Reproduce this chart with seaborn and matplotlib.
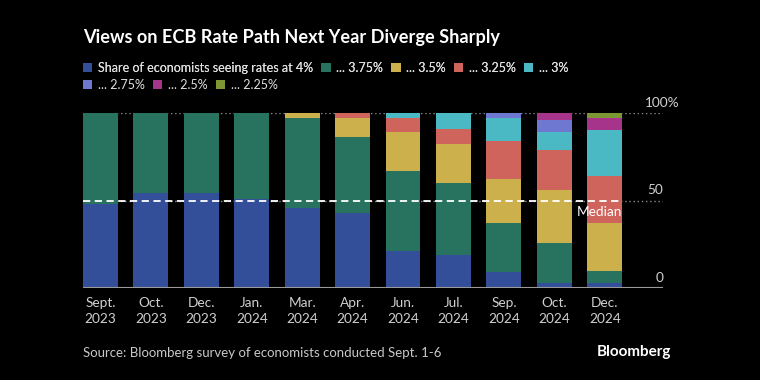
import matplotlib
matplotlib.use('Agg')
import numpy as np
import pandas as pd
import matplotlib.pyplot as plt
import matplotlib.transforms as mtransforms
from matplotlib.patches import Patch
import seaborn as sns

sns.set_style('dark')
plt.rcParams['font.family'] = ['Lato', 'DejaVu Sans']

months = ['Sept.\n2023', 'Oct.\n2023', 'Dec.\n2023', 'Jan.\n2024', 'Mar.\n2024', 'Apr.\n2024',
          'Jun.\n2024', 'Jul.\n2024', 'Sep.\n2024', 'Oct.\n2024', 'Dec.\n2024']
rate_labels = ['Share of economists seeing rates at 4%', '... 3.75%', '... 3.5%', '... 3.25%',
               '... 3%', '... 2.75%', '... 2.5%', '... 2.25%']
# share of economists (%) per survey month, one list per rate level
rate_4_00 = [48, 54, 54, 51, 46, 43, 21, 19, 9, 3, 3]
rate_3_75 = [52, 46, 46, 49, 51, 43, 46, 41, 28, 23, 7]
rate_3_50 = [0, 0, 0, 0, 3, 11, 22, 22, 25, 30, 27]
rate_3_25 = [0, 0, 0, 0, 0, 3, 8, 9, 22, 23, 27]
rate_3_00 = [0, 0, 0, 0, 0, 0, 3, 9, 13, 10, 26]
rate_2_75 = [0, 0, 0, 0, 0, 0, 0, 0, 3, 7, 0]
rate_2_50 = [0, 0, 0, 0, 0, 0, 0, 0, 0, 4, 7]
rate_2_25 = [0, 0, 0, 0, 0, 0, 0, 0, 0, 0, 3]
series = [rate_4_00, rate_3_75, rate_3_50, rate_3_25, rate_3_00, rate_2_75, rate_2_50, rate_2_25]
colors = ['#344f99', '#27735f', '#ccb04c', '#cf645d', '#4ab9c4', '#6f78d0', '#a7348b', '#7c9733']

bg = '#000000'
fig = plt.figure(figsize=(7.6, 3.8), dpi=100, facecolor=bg)
ax = fig.add_axes([83 / 760, 1 - 288.3 / 380, 580 / 760, 175.6 / 380])
ax.set_facecolor(bg)

# cumulative stacks, drawn tallest first so lower layers sit on top
cum = np.cumsum(np.array(series, dtype=float), axis=0)
for i in range(len(series) - 1, -1, -1):
    d = pd.DataFrame({'month': months, 'value': cum[i]})
    sns.barplot(data=d, x='month', y='value', color=colors[i], width=0.69,
                saturation=1, linewidth=0, ax=ax, zorder=2)

ax.set_xlim(-0.345, 11.155)
ax.set_ylim(0, 100)
ax.set_xlabel('')
ax.set_ylabel('')
ax.set_yticks([])
ax.grid(False)
for s in ax.spines.values():
    s.set_visible(False)
ax.tick_params(axis='x', length=0, pad=6, labelsize=9.8, labelcolor='#d0d0d0')
for t in ax.get_xticklabels():
    t.set_linespacing(1.45)

# gridlines and baseline
ax.axhline(100, color='#8a8a8a', lw=1, ls=(0, (1, 2)), zorder=1)
ax.axhline(50, color='#8a8a8a', lw=1, ls=(0, (1, 2)), zorder=1)
ax.axhline(0, color='#9a9a9a', lw=1.5, zorder=3)
ax.plot([-0.345, 10.345], [50, 50], color='white', lw=1.3, ls=(0, (4, 2.5)), zorder=4)
ax.text(10.345, 47, 'Median', color='white', fontsize=9.8, ha='right', va='top', zorder=5)

trans = mtransforms.blended_transform_factory(ax.transAxes, ax.transData)
for v, lab in [(0, '0'), (50, '50')]:
    ax.annotate(lab, xy=(1.0, v), xycoords=trans, xytext=(0, 3), textcoords='offset points',
                ha='right', va='bottom', color='#d0d0d0', fontsize=9.8)
ax.annotate('100%', xy=((645 - 83) / 580, 100), xycoords=trans, xytext=(0, 3),
            textcoords='offset points', ha='left', va='bottom', color='#d0d0d0', fontsize=9.8)

# legend rows
handles = [Patch(facecolor=c, edgecolor='none') for c in colors]
leg_kw = dict(frameon=False, fontsize=9, labelcolor='#e0e0e0', handlelength=0.75,
              handleheight=0.75, handletextpad=0.45, columnspacing=0.65, borderaxespad=0,
              borderpad=0, loc='upper left')
leg1 = fig.legend(handles[:5], rate_labels[:5], ncol=5, bbox_to_anchor=(83 / 760, 1 - 62 / 380), **leg_kw)
fig.add_artist(leg1)
fig.legend(handles[5:], rate_labels[5:], ncol=3, bbox_to_anchor=(83 / 760, 1 - 79 / 380), **leg_kw)

fig.text(83 / 760, 1 - 37 / 380, 'Views on ECB Rate Path Next Year Diverge Sharply', color='white',
         fontsize=13.1, fontweight='bold', ha='left', va='center')
fig.text(83 / 760, 1 - 353 / 380, 'Source: Bloomberg survey of economists conducted Sept. 1-6',
         color='#c8c8c8', fontsize=9.5, ha='left', va='center')
fig.text(671 / 760, 1 - 352 / 380, 'Bloomberg', color='white', fontsize=11, fontweight='bold',
         ha='right', va='center')

fig.savefig('out.png', dpi=100, facecolor=bg)
